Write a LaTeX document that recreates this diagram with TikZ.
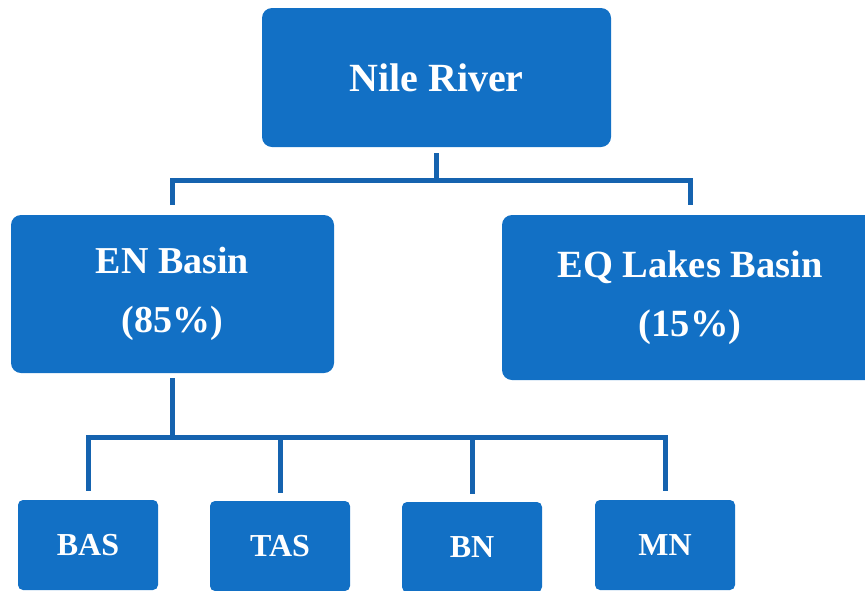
\documentclass[tikz,border=0pt]{standalone}
\usepackage{fontspec}
\setmainfont{Liberation Serif}
\usetikzlibrary{calc}
\definecolor{boxblue}{HTML}{1270C5}
\definecolor{lineblue}{HTML}{1563AF}
\tikzset{
  box/.style={fill=boxblue, draw=none, rounded corners=10pt, text=white,
    font=\bfseries, align=center, inner sep=0pt},
  smallbox/.style={box, rounded corners=5pt, minimum width=140pt, minimum height=90pt,
    font=\fontsize{32}{38}\selectfont\bfseries},
  conn/.style={draw=lineblue, line width=5pt, line join=miter}
}
\begin{document}
\begin{tikzpicture}[x=1pt,y=-1pt]
\useasboundingbox (0,0) rectangle (865,590);
\clip (0,0) rectangle (865,590);
\node[box, minimum width=349pt, minimum height=139pt, font=\fontsize{40}{46}\selectfont\bfseries]
  (nile) at (436.5,77.5) {Nile River};
\node[box, minimum width=323pt, minimum height=158pt, font=\fontsize{38}{59}\selectfont\bfseries]
  (en) at (172.5,294) {EN Basin\\(85\%)};
\node[box, minimum width=376pt, minimum height=165pt, font=\fontsize{38.5}{59}\selectfont\bfseries]
  (eq) at (690,297.5) {EQ Lakes Basin\\(15\%)};
\node[smallbox] (bas) at (88,545) {BAS};
\node[smallbox] (tas) at (280,546) {TAS};
\node[smallbox] (bn) at (472,547) {BN};
\node[smallbox] (mn) at (665,545) {MN};
% top connectors
\coordinate (top) at ([yshift=-33pt]nile.south);
\draw[conn] ([yshift=-6pt]nile.south) -- (top);
\draw[conn] ([yshift=10pt]en.north) |- (top) -| ([yshift=10pt]eq.north);
% bottom connectors
\coordinate (bus) at ([yshift=-64pt]en.south);
\draw[conn] ([yshift=-5pt]en.south) -- (bus);
\draw[conn] ([yshift=9pt]bas.north) |- (bus -| mn.north) -- ([yshift=9pt]mn.north);
\draw[conn] ([yshift=8pt]tas.north) -- (bus -| tas.north);
\draw[conn] ([yshift=8pt]bn.north) -- (bus -| bn.north);
\end{tikzpicture}
\end{document}
